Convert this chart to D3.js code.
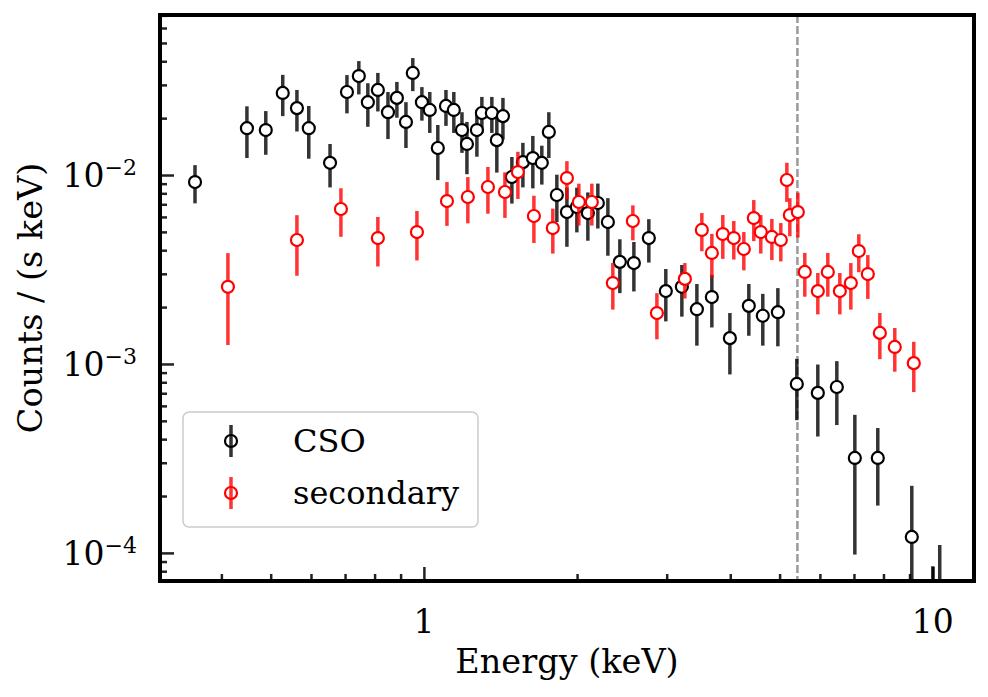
<!DOCTYPE html>
<html>
<head>
<meta charset="utf-8">
<script src="https://cdn.jsdelivr.net/npm/d3@7"></script>
<style>
    body { margin: 0; background: #fff; }
    svg { display: block; font-family: 'DejaVu Serif', serif; }
</style>
</head>
<body>
<div id="spectrum"></div>
<script>
'use strict';

// CSO spectrum (keV, counts / (s keV), 1-sigma error)
const csoEnergy = [0.355, 0.449, 0.489, 0.528, 0.563, 0.594, 0.654, 0.706, 0.745, 0.776, 0.812, 0.850, 0.885, 0.922, 0.951,
    0.991, 1.027, 1.065, 1.105, 1.145, 1.188, 1.215, 1.271, 1.300, 1.360, 1.391, 1.430, 1.489, 1.565, 1.637, 1.705, 1.760,
    1.825, 1.910, 1.998, 2.100, 2.197, 2.299, 2.427, 2.586, 2.767, 2.988, 3.213, 3.439, 3.680, 3.993, 4.350, 4.634, 4.961,
    5.405, 5.944, 6.478, 7.028, 7.797, 9.094, 10.0, 10.32];
const csoCounts = [0.00918, 0.0177, 0.0173, 0.0272, 0.0226, 0.0177, 0.0116, 0.0275, 0.0334, 0.0243, 0.0282, 0.0215, 0.0256,
    0.0191, 0.0347, 0.0243, 0.0221, 0.0139, 0.0232, 0.0221, 0.0173, 0.0146, 0.0173, 0.0213, 0.0213, 0.0153, 0.0205, 0.00976,
    0.0117, 0.0123, 0.0116, 0.0169, 0.00784, 0.00637, 0.00677, 0.00629, 0.00711, 0.00564, 0.00347, 0.00342, 0.00464, 0.00243,
    0.00256, 0.00195, 0.00226, 0.00137, 0.00203, 0.00180, 0.00188, 0.000784, 0.000703, 0.000755, 0.000318, 0.000318,
    0.0001215, 0.000045, 0.000055];
const csoError = [0.0021, 0.0054, 0.0045, 0.0067, 0.0056, 0.0055, 0.0030, 0.0063, 0.0067, 0.0063, 0.0065, 0.0060, 0.0055,
    0.0052, 0.0069, 0.0049, 0.0054, 0.0045, 0.0050, 0.0054, 0.0042, 0.0045, 0.0048, 0.0046, 0.0046, 0.0050, 0.0051, 0.0027,
    0.0031, 0.0038, 0.0027, 0.0046, 0.0022, 0.0022, 0.0018, 0.0018, 0.0019, 0.0019, 0.0011, 0.0010, 0.0012, 0.00075,
    0.00078, 0.0007, 0.0007, 0.00049, 0.00062, 0.00055, 0.00064, 0.00028, 0.00029, 0.00028, 0.00022, 0.00014,
    0.000105, 0.00004, 0.000055];

// secondary source spectrum
const secEnergy = [0.412, 0.563, 0.687, 0.812, 0.969, 1.110, 1.220, 1.336, 1.443, 1.530, 1.645, 1.792, 1.910, 2.016, 2.138,
    2.351, 2.574, 2.870, 3.257, 3.517, 3.680, 3.867, 4.064, 4.253, 4.449, 4.592, 4.828, 5.028, 5.167, 5.237, 5.430, 5.604,
    5.944, 6.219, 6.567, 6.902, 7.155, 7.453, 7.870, 8.420, 9.176];
const secCounts = [0.00256, 0.00453, 0.00661, 0.00464, 0.00499, 0.00728, 0.00765, 0.00864, 0.00813, 0.01037, 0.00607,
    0.00524, 0.00964, 0.0072, 0.0072, 0.00268, 0.00571, 0.00186, 0.00282, 0.00512, 0.00387, 0.00487, 0.00464, 0.00406,
    0.00592, 0.00499, 0.0047, 0.00453, 0.00941, 0.00614, 0.00637, 0.00307, 0.00243, 0.00307, 0.00243, 0.00268, 0.00396,
    0.00299, 0.00146, 0.00123, 0.00101];
const secError = [0.0013, 0.0016, 0.0019, 0.00136, 0.00146, 0.0019, 0.0021, 0.0024, 0.0022, 0.0029, 0.0017, 0.0014, 0.0022,
    0.0018, 0.0018, 0.00074, 0.0012, 0.00051, 0.0006, 0.00117, 0.00101, 0.00127, 0.00107, 0.00093, 0.00145, 0.00115,
    0.00115, 0.00104, 0.0022, 0.0014, 0.0017, 0.0008, 0.0006, 0.0008, 0.0006, 0.00074, 0.0009, 0.00078, 0.0004, 0.00032,
    0.0003];

const seriesNames = ['CSO', 'secondary'];
const cutEnergy = 5.42;
const xTickValues = [1, 10];
const xTickLabels = ['1', '10'];
const yTickValues = [1e-4, 1e-3, 1e-2];
const yTickExponents = ['\u22124', '\u22123', '\u22122'];

const width = 988;
const height = 697;
const margin = {top: 15, right: 14, bottom: 116, left: 160};
const plotW = width - margin.left - margin.right;
const plotH = height - margin.top - margin.bottom;

const series = [
    {name: seriesNames[0], stroke: '#000', bar: 'rgba(0,0,0,0.8)', energy: csoEnergy, counts: csoCounts, error: csoError},
    {name: seriesNames[1], stroke: '#ff0000', bar: 'rgba(255,0,0,0.8)', energy: secEnergy, counts: secCounts, error: secError}
];

const svg = d3.select('#spectrum').append('svg')
    .attr('width', width).attr('height', height);

const g = svg.append('g').attr('transform', 'translate(' + margin.left + ',' + margin.top + ')');

const xScale = d3.scaleLog().domain([0.303, 12.05]).range([0, plotW]);
const yScale = d3.scaleLog().domain([7.1e-5, 0.0703]).range([plotH, 0]);

g.append('clipPath').attr('id', 'plot-clip')
    .append('rect').attr('width', plotW).attr('height', plotH);

// inward ticks, minor and major
const xMinor = xScale.ticks().filter(function (d) { return xTickValues.indexOf(d) < 0; });
const yMinor = yScale.ticks().filter(function (d) { return yTickValues.indexOf(d) < 0; });

function styleTicks(sel) {
    sel.select('.domain').remove();
    sel.selectAll('.tick line').attr('stroke', '#222').attr('stroke-width', 2.5);
    sel.selectAll('.tick text').remove();
}

g.append('g').attr('transform', 'translate(0,' + plotH + ')')
    .call(d3.axisBottom(xScale).tickValues(xMinor).tickSize(-7).tickFormat(''))
    .call(styleTicks);
g.append('g').attr('transform', 'translate(0,' + plotH + ')')
    .call(d3.axisBottom(xScale).tickValues(xTickValues).tickSize(-14).tickFormat(''))
    .call(styleTicks);
g.append('g')
    .call(d3.axisLeft(yScale).tickValues(yMinor).tickSize(-7).tickFormat(''))
    .call(styleTicks);
g.append('g')
    .call(d3.axisLeft(yScale).tickValues(yTickValues).tickSize(-14).tickFormat(''))
    .call(styleTicks);

// tick labels
g.selectAll('.xlabel').data(xTickValues).enter().append('text')
    .attr('class', 'xlabel')
    .attr('x', function (d) { return xScale(d); })
    .attr('y', plotH + 52)
    .attr('text-anchor', 'middle')
    .style('font-size', '33px')
    .text(function (d, i) { return xTickLabels[i]; });

const yLabels = g.selectAll('.ylabel').data(yTickValues).enter().append('text')
    .attr('class', 'ylabel')
    .attr('x', -23)
    .attr('y', function (d) { return yScale(d) + 12; })
    .attr('text-anchor', 'end');
yLabels.append('tspan').style('font-size', '33px').text('10');
yLabels.append('tspan').attr('dy', -12).style('font-size', '22px')
    .text(function (d, i) { return yTickExponents[i]; });

// axis titles
svg.append('text')
    .attr('x', margin.left + plotW / 2)
    .attr('y', height - 24)
    .attr('text-anchor', 'middle')
    .style('font-size', '33.5px')
    .text('Energy (keV)');

svg.append('text')
    .attr('transform', 'translate(42,' + (margin.top + plotH / 2) + ') rotate(-90)')
    .attr('text-anchor', 'middle')
    .style('font-size', '33.5px')
    .text('Counts / (s keV)');

const plot = g.append('g').attr('clip-path', 'url(#plot-clip)');

// dashed energy cut
plot.append('line')
    .attr('x1', xScale(cutEnergy)).attr('x2', xScale(cutEnergy))
    .attr('y1', 0).attr('y2', plotH)
    .attr('stroke', '#9a9a9a').attr('stroke-width', 2.5)
    .attr('stroke-dasharray', '8,3');

series.forEach(function (s) {
    const pts = s.energy.map(function (e, i) {
        return {x: e, y: s.counts[i], err: s.error[i]};
    });
    const sg = plot.append('g').attr('class', 'series');

    sg.selectAll('line').data(pts).enter().append('line')
        .attr('x1', function (d) { return xScale(d.x); })
        .attr('x2', function (d) { return xScale(d.x); })
        .attr('y1', function (d) { return yScale(d.y + d.err); })
        .attr('y2', function (d) { return yScale(Math.max(d.y - d.err, 1e-7)); })
        .attr('stroke', s.bar).attr('stroke-width', 3.5);

    sg.selectAll('circle').data(pts).enter().append('circle')
        .attr('cx', function (d) { return xScale(d.x); })
        .attr('cy', function (d) { return yScale(d.y); })
        .attr('r', 6)
        .attr('fill', '#fff')
        .attr('stroke', s.stroke).attr('stroke-width', 2.2);
});

// frame
g.append('rect')
    .attr('width', plotW).attr('height', plotH)
    .attr('fill', 'none').attr('stroke', '#000').attr('stroke-width', 4);

// legend
const legend = g.append('g').attr('transform', 'translate(23,397)');
legend.append('rect')
    .attr('width', 295).attr('height', 115).attr('rx', 6)
    .attr('fill', 'rgba(255,255,255,0.8)')
    .attr('stroke', '#cccccc').attr('stroke-width', 1.5);

const items = legend.selectAll('.item').data(series).enter().append('g')
    .attr('class', 'item')
    .attr('transform', function (d, i) { return 'translate(48,' + (29 + i * 52) + ')'; });

items.append('circle').attr('r', 6)
    .attr('fill', 'none')
    .attr('stroke', function (d) { return d.stroke; }).attr('stroke-width', 2.2);
items.append('line')
    .attr('y1', -16).attr('y2', 16)
    .attr('stroke', function (d) { return d.bar; }).attr('stroke-width', 3.5);
items.append('text')
    .attr('x', 62).attr('y', 11)
    .style('font-size', '32px')
    .text(function (d) { return d.name; });
</script>
</body>
</html>
